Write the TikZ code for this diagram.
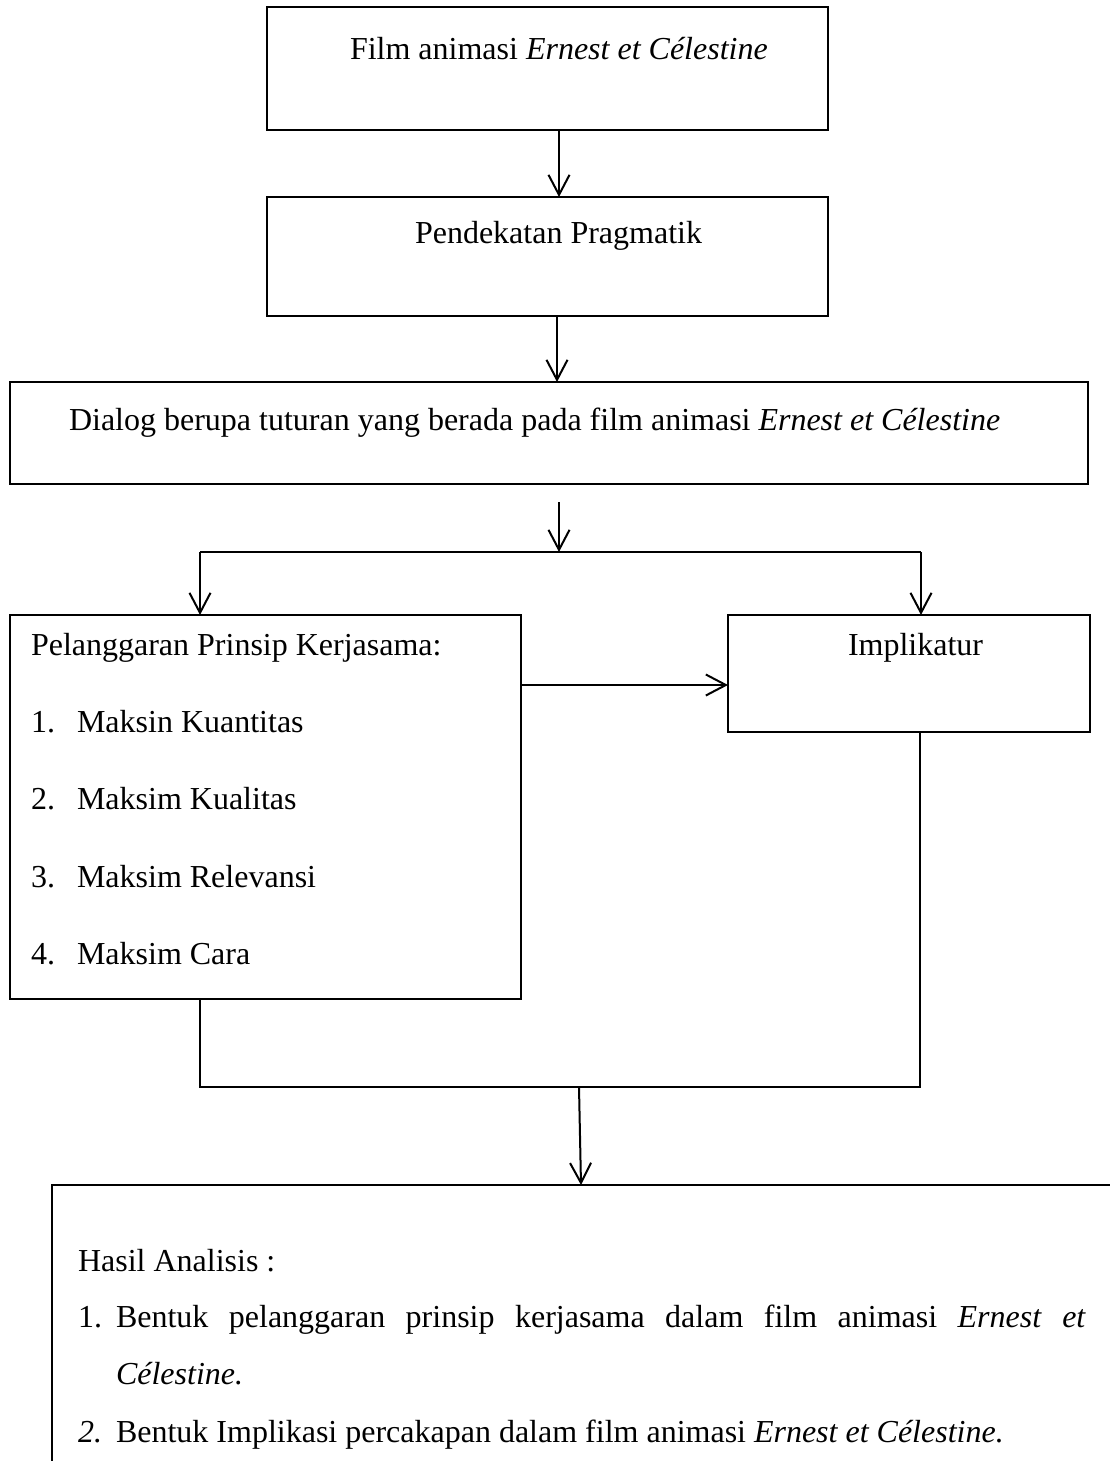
\documentclass[tikz,border=0pt]{standalone}
\usepackage{fontspec}
\setmainfont{Liberation Serif}
\usetikzlibrary{arrows.meta}
\begin{document}
\begin{tikzpicture}[x=1pt,y=-1pt,
  box/.style={draw, line width=1.5pt, inner sep=0pt, outer sep=0pt, anchor=north west},
  txt/.style={inner sep=0pt, outer sep=0pt, anchor=base west, font=\fontsize{32}{38}\selectfont},
  arr/.style={line width=2pt, -{Straight Barb[length=20pt,width=21pt,line width=2pt]}},
  ln/.style={line width=2pt}]
\useasboundingbox (0,0) rectangle (1110,1461);
\clip (0,0) rectangle (1110,1461);
% boxes
\node[box, minimum width=561pt, minimum height=123pt] (b1) at (267,7) {};
\node[txt] (t1) at (350,60) {Film animasi \textit{Ernest et Célestine}};
\node[box, minimum width=561pt, minimum height=119pt] (b2) at (267,197) {};
\node[txt] (t2) at (415,243) {Pendekatan Pragmatik};
\node[box, minimum width=1078pt, minimum height=102pt] (b3) at (10,382) {};
\node[txt] (t3) at (69,430) {Dialog berupa tuturan yang berada pada film animasi \textit{Ernest et Célestine}};
\node[box, minimum width=511pt, minimum height=384pt] (b4) at (10,615) {};
\node[txt] (t4) at (31,655) {Pelanggaran Prinsip Kerjasama:};
\node[txt] (n1) at (31,732) {1.};
\node[txt] (i1) at (77,732) {Maksin Kuantitas};
\node[txt] (n2) at (31,809) {2.};
\node[txt] (i2) at (77,809) {Maksim Kualitas};
\node[txt] (n3) at (31,887) {3.};
\node[txt] (i3) at (77,887) {Maksim Relevansi};
\node[txt] (n4) at (31,964) {4.};
\node[txt] (i4) at (77,964) {Maksim Cara};
\node[box, minimum width=362pt, minimum height=117pt] (b5) at (728,615) {};
\node[txt] (t5) at (848,655) {Implikatur};
\node[box, minimum width=1200pt, minimum height=400pt] (b6) at (52,1185) {};
\node[txt] (t6) at (78,1271) {Hasil Analisis :};
\node[txt] (m1) at (78,1327) {1.};
\node[txt] (r1) at (116,1327) {\makebox[970pt][s]{Bentuk pelanggaran prinsip kerjasama dalam film animasi \textit{Ernest} \textit{et}}};
\node[txt] (r1b) at (116,1384) {\textit{Célestine.}};
\node[txt] (m2) at (78,1442) {\textit{2.}};
\node[txt] (r2) at (116,1442) {Bentuk Implikasi percakapan dalam film animasi \textit{Ernest et Célestine.}};
% coordinates
\coordinate (c1) at (559,0);
\coordinate (c2) at (557,0);
\coordinate (s3) at (559,502);
\coordinate (j) at (559,552);
\coordinate (jl) at (200,552);
\coordinate (jr) at (921,552);
\coordinate (m) at (0,685);
\coordinate (bl) at (200,1087);
\coordinate (br) at (920,1087);
\coordinate (d1) at (579,1087);
\coordinate (d2) at (581,0);
% connectors
\draw[arr] (b1.south -| c1) -- (b2.north -| c1);
\draw[arr] (b2.south -| c2) -- (b3.north -| c2);
\draw[arr] (s3) -- (j);
\draw[ln] (jl) -- (jr);
\draw[arr] (jl) -- (b4.north -| jl);
\draw[arr] (jr) -- (b5.north -| jr);
\draw[arr] (b4.east |- m) -- (b5.west |- m);
\draw[ln] (b4.south -| bl) -- (bl) -- (br) -- (b5.south -| br);
\draw[arr] (d1) -- (b6.north -| d2);
\end{tikzpicture}
\end{document}
